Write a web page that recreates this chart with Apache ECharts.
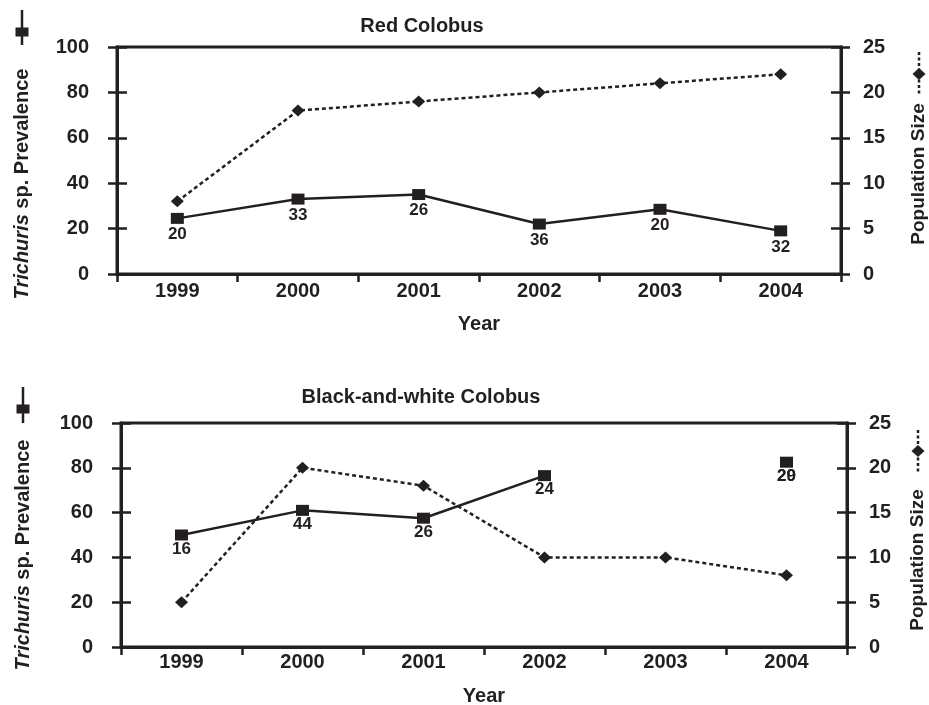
<!DOCTYPE html>
<html>
<head>
<meta charset="utf-8">
<script src="https://cdn.jsdelivr.net/npm/echarts@6/dist/echarts.min.js"></script>
<style>html,body{margin:0;padding:0;background:#fff}#c{width:929px;height:705px}</style>
</head>
<body>
<div id="c"></div>
<script>
const years = ['1999', '2000', '2001', '2002', '2003', '2004'];
const redPrev = [24.5, 33, 35, 22, 28.5, 19];
const redPop = [8, 18, 19, 20, 21, 22];
const redN = ['20', '33', '26', '36', '20', '32'];
const bwPrev = [50, 61, 57.5, 76.5, null, 82.5];
const bwPop = [5, 20, 18, 10, 10, 8];
const bwN = ['16', '44', '26', '24', '', '29'];
const bwNExtra = ['', '', '', '', '', '20'];
const titles = ['Red Colobus', 'Black-and-white Colobus'];

const INK = '#231f20';
const FF = '"Liberation Sans", Arial, Helvetica, sans-serif';
const chart = echarts.init(document.getElementById('c'));

const grids = [
  { left: 117, right: 88, top: 47, height: 227 },
  { left: 121, right: 82, top: 423, height: 224 }
];

function xAxes(gi, nameGap, margin) {
  const base = {
    type: 'category', data: years, gridIndex: gi, boundaryGap: true,
    axisLine: { lineStyle: { color: INK, width: 3 } },
    splitLine: { show: false }
  };
  return [
    Object.assign({}, base, {
      name: 'Year', nameLocation: 'middle', nameGap: nameGap,
      nameTextStyle: { color: INK, fontFamily: FF, fontWeight: 'bold', fontSize: 20 },
      axisTick: { show: true, length: 7, lineStyle: { color: INK, width: 2.5 } },
      axisLabel: { color: INK, fontFamily: FF, fontWeight: 'bold', fontSize: 20, margin: margin }
    }),
    Object.assign({}, base, {
      axisTick: { show: true, inside: true, length: 8, lineStyle: { color: INK, width: 2.5 } },
      axisLabel: { show: false }
    })
  ];
}

function yAxes(gi, pos, max, interval, margin) {
  const base = {
    type: 'value', gridIndex: gi, position: pos, min: 0, max: max, interval: interval,
    axisLine: { show: true, lineStyle: { color: INK, width: 3 } },
    splitLine: { show: false }
  };
  return [
    Object.assign({}, base, {
      axisTick: { show: true, length: 9, lineStyle: { color: INK, width: 2.5 } },
      axisLabel: { color: INK, fontFamily: FF, fontWeight: 'bold', fontSize: 20, margin: margin }
    }),
    Object.assign({}, base, {
      axisTick: { show: true, inside: true, length: 10, lineStyle: { color: INK, width: 2.5 } },
      axisLabel: { show: false }
    })
  ];
}

const xAxis = [].concat(xAxes(0, 40, 7), xAxes(1, 39, 5));
const yAxis = [].concat(
  yAxes(0, 'left', 100, 20, 28), yAxes(0, 'right', 25, 5, 22),
  yAxes(1, 'left', 100, 20, 28), yAxes(1, 'right', 25, 5, 22)
);

function prevSeries(xi, yi, data, labels, dist) {
  return {
    type: 'line', xAxisIndex: xi, yAxisIndex: yi, data: data,
    connectNulls: false, symbol: 'rect', symbolSize: [13, 11], showSymbol: true,
    showAllSymbol: true,
    lineStyle: { color: INK, width: 2.5 }, itemStyle: { color: INK },
    label: {
      show: true, position: 'bottom', distance: dist, color: INK,
      fontFamily: FF, fontWeight: 'bold', fontSize: 17,
      formatter: p => labels[p.dataIndex]
    },
    z: 4, animation: false
  };
}
function popSeries(xi, yi, data) {
  return {
    type: 'line', xAxisIndex: xi, yAxisIndex: yi, data: data,
    symbol: 'diamond', symbolSize: [13, 12], showAllSymbol: true,
    lineStyle: { color: INK, width: 2.5, type: [4, 3] }, itemStyle: { color: INK },
    z: 3, animation: false
  };
}

const series = [
  prevSeries(0, 0, redPrev, redN, 2),
  popSeries(0, 2, redPop),
  prevSeries(2, 4, bwPrev, bwN, 0),
  popSeries(2, 6, bwPop),
  {
    type: 'line', xAxisIndex: 2, yAxisIndex: 4, data: bwPrev,
    symbol: 'rect', symbolSize: [13, 11], showAllSymbol: true,
    itemStyle: { color: 'rgba(0,0,0,0)' },
    lineStyle: { opacity: 0 },
    label: {
      show: true, position: 'bottom', distance: 0, color: INK,
      fontFamily: FF, fontWeight: 'bold', fontSize: 17,
      formatter: p => bwNExtra[p.dataIndex]
    },
    z: 5, animation: false
  }
];

function nameText(x, y, rich, fs) {
  return {
    type: 'text', x: x, y: y, rotation: Math.PI / 2, z: 10,
    style: {
      text: rich, align: 'center', verticalAlign: 'middle', fill: INK,
      font: 'bold ' + fs + 'px ' + FF,
      rich: {
        i: { font: 'italic bold ' + fs + 'px ' + FF, fill: INK },
        n: { font: 'bold ' + fs + 'px ' + FF, fill: INK }
      }
    }
  };
}
function squareKey(x, y1, y2, ys) {
  return [
    { type: 'line', z: 10, shape: { x1: x, y1: y1, x2: x, y2: y2 }, style: { stroke: INK, lineWidth: 2.5 } },
    { type: 'rect', z: 10, shape: { x: x - 6.5, y: ys - 4.5, width: 13, height: 9 }, style: { fill: INK } }
  ];
}
function diamondKey(x, y1, y2, yd) {
  return [
    { type: 'line', z: 10, shape: { x1: x, y1: y1, x2: x, y2: y2 }, style: { stroke: INK, lineWidth: 2.5, lineDash: [3, 2.5] } },
    { type: 'polygon', z: 10, shape: { points: [[x, yd - 6], [x + 6.5, yd], [x, yd + 6], [x - 6.5, yd]] }, style: { fill: INK } }
  ];
}

const graphic = [].concat(
  [
    { type: 'text', x: 422, y: 26, z: 10, style: { text: titles[0], font: 'bold 20px ' + FF, fill: INK, align: 'center', verticalAlign: 'middle' } },
    { type: 'text', x: 421, y: 397, z: 10, style: { text: titles[1], font: 'bold 20px ' + FF, fill: INK, align: 'center', verticalAlign: 'middle' } },
    nameText(22, 184, '{i|Trichuris}{n| sp. Prevalence}', 20),
    nameText(23, 555, '{i|Trichuris}{n| sp. Prevalence}', 20),
    nameText(919, 174, 'Population Size', 19),
    nameText(918, 560, 'Population Size', 19)
  ],
  squareKey(22, 10, 45, 32),
  squareKey(23, 387, 423, 409),
  diamondKey(919, 52, 95, 74),
  diamondKey(918, 430, 472, 451)
);

chart.setOption({
  backgroundColor: '#fff',
  animation: false,
  grid: grids.map(g => Object.assign({ show: true, borderColor: INK, borderWidth: 3, backgroundColor: 'transparent', outerBoundsMode: 'none', containLabel: false }, g)),
  xAxis: xAxis,
  yAxis: yAxis,
  series: series,
  graphic: graphic
});
</script>
</body>
</html>
